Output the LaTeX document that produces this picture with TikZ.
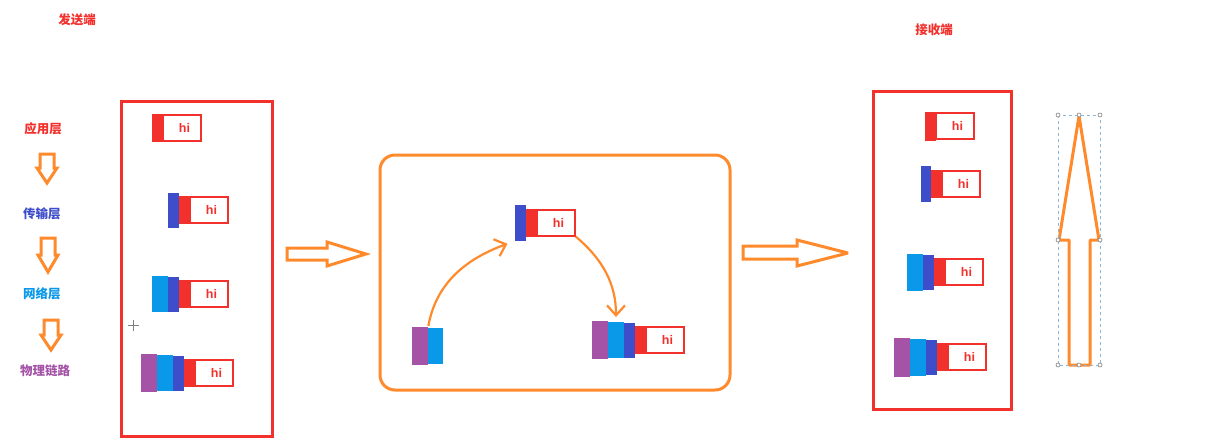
\documentclass[tikz,border=0pt]{standalone}
\usepackage{fontspec}
\setmainfont{Liberation Sans}
\newfontfamily\cjk{Noto Sans CJK SC}
\usepackage{tikz}
\usetikzlibrary{arrows.meta, positioning}
\definecolor{pktred}{HTML}{F2302C}
\definecolor{pktblue}{HTML}{3E4DC9}
\definecolor{pktsky}{HTML}{0A98E8}
\definecolor{pktpurple}{HTML}{A453A6}
\definecolor{arrowor}{HTML}{FF8A2C}
\definecolor{selblue}{HTML}{8DB6DA}

\begin{document}
\begin{tikzpicture}[
    x=1pt, y=-1pt,
    every node/.style={outer sep=0pt, inner sep=0pt},
    phys/.style={fill=pktpurple, minimum width=16, minimum height=38},
    net/.style={fill=pktsky, minimum width=16, minimum height=36},
    trans/.style={fill=pktblue, minimum width=11, minimum height=35},
    app/.style={fill=pktred, minimum width=11, minimum height=28},
    data/.style={draw=pktred, fill=white, line width=2.5pt, minimum width=38, minimum height=26,
        text=pktred, font=\bfseries\fontsize{12.5}{12.5}\selectfont, text depth=0pt},
    layer/.style={font=\cjk\bfseries\fontsize{12.5}{12.5}\selectfont},
    title/.style={font=\cjk\bfseries\fontsize{12.5}{12.5}\selectfont, text=pktred},
    hostbox/.style={draw=pktred, line width=3pt},
    hollow/.style={draw=arrowor, line width=3pt, fill=white, line join=miter, miter limit=4},
    flow/.style={draw=arrowor, line width=2.2pt, -{Straight Barb[length=10pt,width=18pt]}},
    handle/.style={draw=gray, fill=white, line width=0.6pt, circle, minimum size=4}
]
    \useasboundingbox (0,0) rectangle (1220,444);

    % Titles
    \node[title] (sendtitle) at (77,20) {发送端};
    \node[title] (recvtitle) at (934,30) {接收端};

    % Layer labels and down arrows
    \node[layer, text=pktred] (lapp) at (43,129) {应用层};
    \node[layer, text=pktblue] (ltrans) at (42,214) {传输层};
    \node[layer, text=pktsky] (lnet) at (42,294) {网络层};
    \node[layer, text=pktpurple] (lphys) at (45,371) {物理链路};
    \draw[hollow] (40,154) -- (54,154) -- (54,168) -- (57,168) -- (47,183) -- (37,168) -- (40,168) -- cycle;
    \draw[hollow] (41,238) -- (55,238) -- (55,255) -- (58,255) -- (48,272) -- (38,255) -- (41,255) -- cycle;
    \draw[hollow] (44,320) -- (58,320) -- (58,335) -- (61,335) -- (51,350) -- (41,335) -- (44,335) -- cycle;

    % Sender
    \node[hostbox, minimum width=151, minimum height=335] (sender) at (196.5,268.5) {};
    \node[app, anchor=west] (s1app) at (152,128) {};
    \node[data, anchor=west] (s1data) at (s1app.east) {\hspace*{5pt}hi};

    \node[trans, anchor=west] (s2trans) at (168,210) {};
    \node[app, anchor=west] (s2app) at (s2trans.east) {};
    \node[data, anchor=west] (s2data) at (s2app.east) {\hspace*{5pt}hi};

    \node[net, anchor=west] (s3net) at (152,294) {};
    \node[trans, anchor=west] (s3trans) at (s3net.east) {};
    \node[app, anchor=west] (s3app) at (s3trans.east) {};
    \node[data, anchor=west] (s3data) at (s3app.east) {\hspace*{5pt}hi};

    \node[phys, anchor=west] (s4phys) at (141,373) {};
    \node[net, anchor=west] (s4net) at (s4phys.east) {};
    \node[trans, anchor=west] (s4trans) at (s4net.east) {};
    \node[app, anchor=west] (s4app) at (s4trans.east) {};
    \node[data, anchor=west] (s4data) at (s4app.east) {\hspace*{5pt}hi};

    % cursor mark
    \draw[gray, line width=0.6pt] (128,325) -- (139,325) (133.5,319.5) -- (133.5,330.5);

    % Hollow arrows between the parts
    \draw[hollow] (287,248) -- (327,248) -- (327,242) -- (366,254) -- (327,266) -- (327,260) -- (287,260) -- cycle;
    \draw[hollow] (743,246) -- (797,246) -- (797,240) -- (848,253) -- (797,266) -- (797,259) -- (743,259) -- cycle;

    % Network in between
    \node[draw=arrowor, line width=3pt, rounded corners=15, minimum width=350, minimum height=235] (wire) at (555,272.5) {};

    \node[phys, anchor=west] (gphys) at (412,346) {};
    \node[net, anchor=west, minimum width=15] (gnet) at (gphys.east) {};

    \node[trans, anchor=west, minimum height=36] (mtrans) at (515,223) {};
    \node[app, anchor=west] (mapp) at (mtrans.east) {};
    \node[data, anchor=west] (mdata) at (mapp.east) {\hspace*{5pt}hi};

    \node[phys, anchor=west] (rphys) at (592,340) {};
    \node[net, anchor=west] (rnet) at (rphys.east) {};
    \node[trans, anchor=west] (rtrans) at (rnet.east) {};
    \node[app, anchor=west] (rapp) at (rtrans.east) {};
    \node[data, anchor=west] (rdata) at (rapp.east) {\hspace*{5pt}hi};

    \draw[flow, shorten <=2pt, shorten >=8pt] (gnet.north west) to[out=80, in=200] (mtrans.south west);
    \draw[flow, shorten <=1pt, shorten >=5pt] (mdata.south east) to[out=-40, in=90] (rnet.north);

    % Receiver
    \node[hostbox, minimum width=138, minimum height=318] (receiver) at (942,250) {};
    \node[app, anchor=west, minimum height=29] (r1app) at (925,126) {};
    \node[data, anchor=west] (r1data) at (r1app.east) {\hspace*{5pt}hi};

    \node[trans, anchor=west, minimum width=10, minimum height=36] (r2trans) at (921,184) {};
    \node[app, anchor=west] (r2app) at (r2trans.east) {};
    \node[data, anchor=west] (r2data) at (r2app.east) {\hspace*{5pt}hi};

    \node[net, anchor=west, minimum height=37] (r3net) at (907,272) {};
    \node[trans, anchor=west] (r3trans) at (r3net.east) {};
    \node[app, anchor=west] (r3app) at (r3trans.east) {};
    \node[data, anchor=west] (r3data) at (r3app.east) {\hspace*{5pt}hi};

    \node[phys, anchor=west, minimum height=39] (r4phys) at (894,357) {};
    \node[net, anchor=west, minimum height=37] (r4net) at (r4phys.east) {};
    \node[trans, anchor=west] (r4trans) at (r4net.east) {};
    \node[app, anchor=west] (r4app) at (r4trans.east) {};
    \node[data, anchor=west] (r4data) at (r4app.east) {\hspace*{5pt}hi};

    % Up arrow with its selection frame
    \draw[hollow, line join=round] (1079,116) -- (1099,240) -- (1090,240) -- (1090,365) -- (1069,365) -- (1069,240) -- (1059,240) -- cycle;
    \draw[selblue, dashed, line width=0.8pt] (1058,115) rectangle (1100,365);
    \foreach \hx/\hy in {1058/115, 1079/115, 1100/115, 1058/240, 1100/240, 1058/365, 1079/365, 1100/365}
        \node[handle] at (\hx,\hy) {};
\end{tikzpicture}
\end{document}
